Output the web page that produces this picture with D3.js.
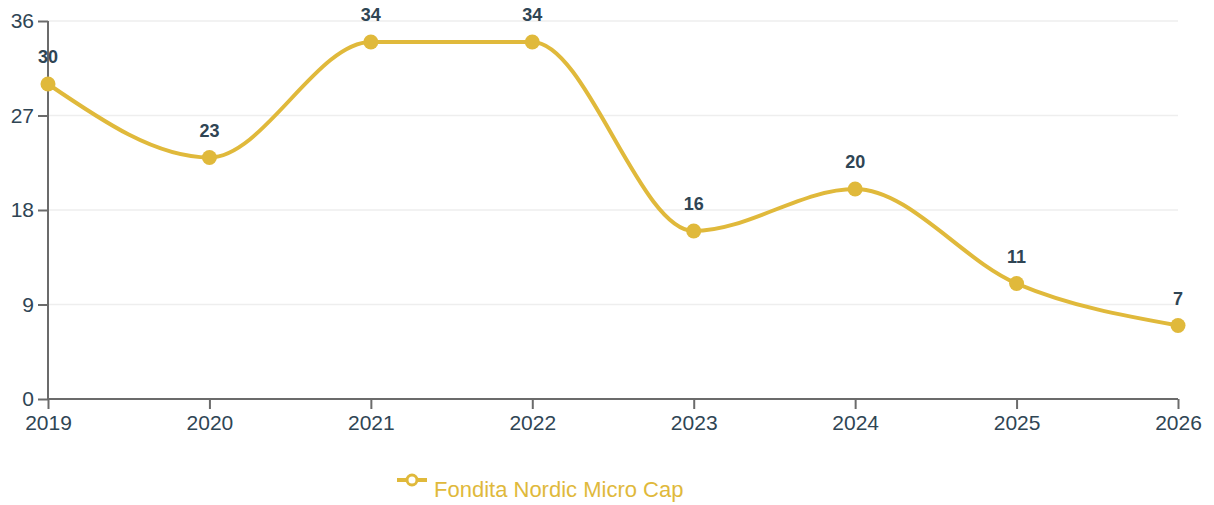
<!DOCTYPE html>
<html lang="en">
<head>
    <meta charset="UTF-8">
    <title>Fondita Nordic Micro Cap</title>
    <style>
        body { margin: 0; background: #fff; }
        text { font-family: "Liberation Sans", Arial, sans-serif; }
    </style>
</head>
<body>
    <svg width="1214" height="505"></svg>

    <script src="https://d3js.org/d3.v7.min.js"></script>
    <script>
        var years = ["2019", "2020", "2021", "2022", "2023", "2024", "2025", "2026"];
        var values = [30, 23, 34, 34, 16, 20, 11, 7];
        var yTicks = [0, 9, 18, 27, 36];
        var seriesName = "Fondita Nordic Micro Cap";

        var gold = "#e0b93b";
        var textColor = "#2f4554";
        var axisColor = "#6b6b6b";

        var svg = d3.select("svg");
        var mLeft = 48, mRight = 1178, mTop = 21, mBottom = 399;

        var x = d3.scalePoint().domain(years).range([mLeft, mRight]);
        var y = d3.scaleLinear().domain([0, 36]).range([mBottom, mTop]);

        // grid lines
        svg.append("g")
            .selectAll("line")
            .data(yTicks.filter(function (d) { return d > 0; }))
            .enter().append("line")
            .attr("x1", mLeft).attr("x2", mRight)
            .attr("y1", function (d) { return y(d); })
            .attr("y2", function (d) { return y(d); })
            .attr("stroke", "#eeeeee")
            .attr("stroke-width", 1.5);

        var yAxis = svg.append("g")
            .attr("transform", "translate(" + mLeft + ",0)")
            .call(d3.axisLeft(y).tickValues(yTicks).tickSize(10).tickPadding(4));

        var xAxis = svg.append("g")
            .attr("transform", "translate(0," + mBottom + ")")
            .call(d3.axisBottom(x).tickSize(10).tickPadding(6));

        [yAxis, xAxis].forEach(function (a) {
            a.select(".domain").attr("stroke", axisColor).attr("stroke-width", 2);
            a.selectAll(".tick line").attr("stroke", axisColor).attr("stroke-width", 2);
            a.selectAll("text").attr("fill", textColor).style("font-size", "21px");
        });
        // axis lines without outer tick caps
        yAxis.select(".domain").attr("d", "M0," + mTop + "V" + mBottom);
        xAxis.select(".domain").attr("d", "M" + mLeft + ",0H" + mRight);

        var line = d3.line()
            .x(function (d, i) { return x(years[i]); })
            .y(function (d) { return y(d); })
            .curve(d3.curveMonotoneX);

        svg.append("path")
            .datum(values)
            .attr("d", line)
            .attr("fill", "none")
            .attr("stroke", gold)
            .attr("stroke-width", 4);

        svg.append("g")
            .selectAll("circle")
            .data(values)
            .enter().append("circle")
            .attr("cx", function (d, i) { return x(years[i]); })
            .attr("cy", function (d) { return y(d); })
            .attr("r", 7.5)
            .attr("fill", gold);

        svg.append("g")
            .selectAll("text")
            .data(values)
            .enter().append("text")
            .attr("x", function (d, i) { return x(years[i]); })
            .attr("y", function (d) { return y(d) - 21; })
            .attr("text-anchor", "middle")
            .attr("fill", textColor)
            .style("font-size", "18px")
            .style("font-weight", "bold")
            .text(function (d) { return d; });

        // legend
        var legend = svg.append("g").attr("transform", "translate(397,480)");
        legend.append("line")
            .attr("x1", 0).attr("x2", 30)
            .attr("stroke", gold).attr("stroke-width", 4);
        legend.append("circle")
            .attr("cx", 15).attr("r", 5)
            .attr("fill", "#fff").attr("stroke", gold).attr("stroke-width", 3);
        legend.append("text")
            .attr("x", 37).attr("y", 17)
            .attr("fill", gold)
            .style("font-size", "22px")
            .text(seriesName);
    </script>
</body>
</html>
